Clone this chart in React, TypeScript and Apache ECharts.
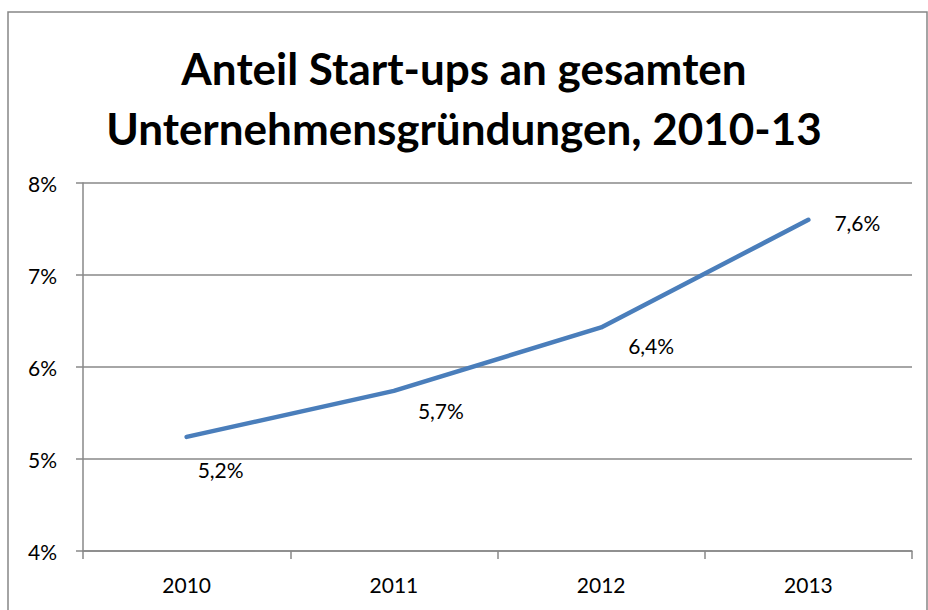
import React, { useEffect, useRef } from "react";
import * as echarts from "echarts";

const years = ["2010", "2011", "2012", "2013"];
const shares = [5.24, 5.74, 6.43, 7.6];
const yMin = 4;
const yMax = 8;
const yStep = 1;

const labelOffsets: [number, number][] = [
  [34, 33],
  [47, 20],
  [50, 18],
  [49, 3],
];

const FONT = "Lato, 'Open Sans', sans-serif";

export default function App() {
  const ref = useRef<HTMLDivElement>(null);
  useEffect(() => {
    if (!ref.current) return;
    const chart = echarts.init(ref.current, undefined, { renderer: "svg" });
    chart.setOption({
      animation: false,
      backgroundColor: "#ffffff",
      title: {
        text: "Anteil Start-ups an gesamten\nUnternehmensgründungen, 2010-13",
        left: "center",
        top: 33,
        textStyle: {
          fontFamily: FONT,
          fontWeight: "bold",
          fontSize: 44,
          lineHeight: 60,
          color: "#000000",
        },
      },
      graphic: [
        {
          type: "rect",
          shape: { x: 8, y: 12, width: 919, height: 640 },
          style: { fill: "none", stroke: "#868686", lineWidth: 1.5 },
          silent: true,
        },
      ],
      grid: { left: 83, right: 16, top: 183, bottom: 59 },
      xAxis: {
        type: "category",
        data: years,
        boundaryGap: true,
        axisLine: { lineStyle: { color: "#888888", width: 1.5 } },
        axisTick: { show: true, length: 8, alignWithLabel: false, lineStyle: { color: "#888888", width: 1.5 } },
        axisLabel: { color: "#000000", fontFamily: FONT, fontSize: 21, margin: 23 },
        splitLine: { show: false },
      },
      yAxis: {
        type: "value",
        min: yMin,
        max: yMax,
        interval: yStep,
        axisLine: { show: true, lineStyle: { color: "#888888", width: 1.5 } },
        axisTick: { show: true, length: 7, lineStyle: { color: "#888888", width: 1.5 } },
        axisLabel: {
          color: "#000000",
          fontFamily: FONT,
          fontSize: 21,
          margin: 26,
          formatter: "{value}%",
        },
        splitLine: { show: true, lineStyle: { color: "#888888", width: 1.5 } },
      },
      series: [
        {
          type: "line",
          data: shares.map((v, i) => ({
            value: v,
            label: { offset: labelOffsets[i] },
          })),
          showSymbol: true,
          symbol: "circle",
          symbolSize: 1,
          itemStyle: { color: "rgba(0,0,0,0)" },
          lineStyle: { color: "#4a7ebb", width: 4.5, cap: "round" },
          label: {
            show: true,
            position: "inside",
            align: "center",
            verticalAlign: "middle",
            color: "#000000",
            fontFamily: FONT,
            fontSize: 21,
            formatter: (p: any) => p.value.toFixed(1).replace(".", ",") + "%",
          },
        },
      ],
    });
    return () => chart.dispose();
  }, []);
  return (
    <div
      ref={ref}
      style={{ position: "absolute", left: 0, top: 0, width: 928, height: 610 }}
    />
  );
}
